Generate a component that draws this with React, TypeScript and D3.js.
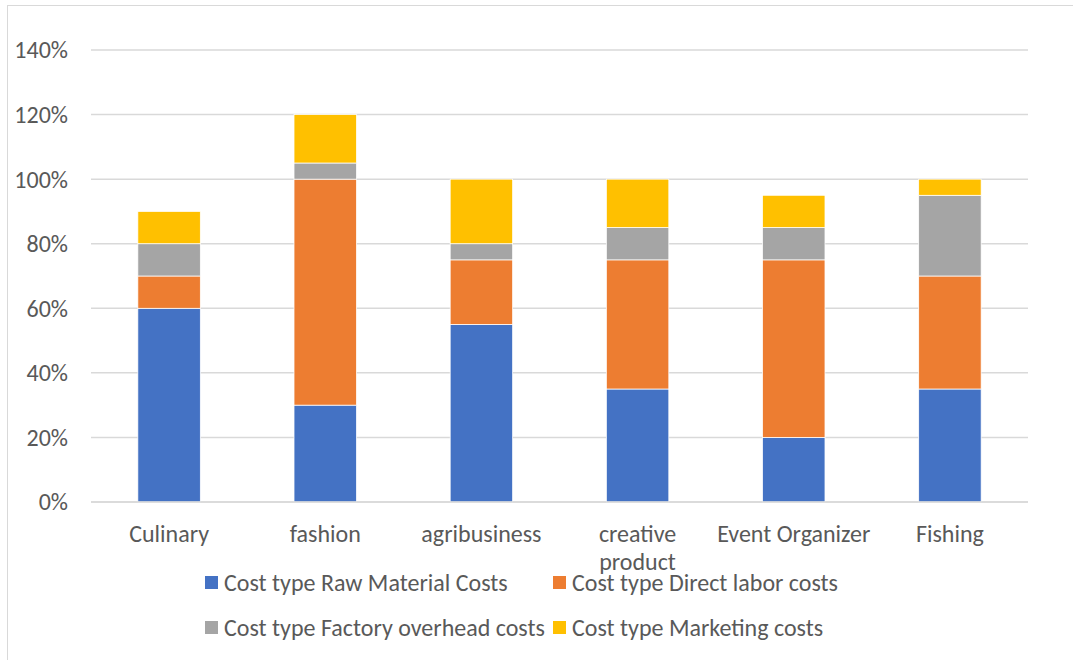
import React from 'react';
import * as d3 from 'd3';

const categories = ['Culinary', 'fashion', 'agribusiness', 'creative product', 'Event Organizer', 'Fishing'];
const seriesNames = [
  'Cost type Raw Material Costs',
  'Cost type Direct labor costs',
  'Cost type Factory overhead costs',
  'Cost type Marketing costs',
];
const rawMaterial = [0.6, 0.3, 0.55, 0.35, 0.2, 0.35];
const directLabor = [0.1, 0.7, 0.2, 0.4, 0.55, 0.35];
const overhead = [0.1, 0.05, 0.05, 0.1, 0.1, 0.25];
const marketing = [0.1, 0.15, 0.2, 0.15, 0.1, 0.05];
const yTicks = [0, 0.2, 0.4, 0.6, 0.8, 1.0, 1.2, 1.4];
const colors = ['#4472C4', '#ED7D31', '#A5A5A5', '#FFC000'];

const width = 1073;
const height = 660;
const margin = { top: 50, bottom: 158, left: 91, right: 45 };
const font = 'Carlito, Lato, "Open Sans", sans-serif';
const fontSize = 24;

export default function App() {
  const chartWidth = width - margin.left - margin.right;
  const chartHeight = height - margin.top - margin.bottom;

  const x = d3.scaleBand().domain(categories).range([0, chartWidth]).paddingInner(0.6).paddingOuter(0.3);
  const y = d3.scaleLinear().domain([0, 1.4]).range([chartHeight, 0]);

  const table = categories.map((c, i) => ({
    cat: c,
    s0: rawMaterial[i],
    s1: directLabor[i],
    s2: overhead[i],
    s3: marketing[i],
  }));
  const stacked = d3.stack<any>().keys(['s0', 's1', 's2', 's3'])(table);
  const fmt = d3.format('.0%');

  const legend = [
    { name: seriesNames[0], x: 205, y: 583 },
    { name: seriesNames[1], x: 553, y: 583 },
    { name: seriesNames[2], x: 205, y: 628 },
    { name: seriesNames[3], x: 553, y: 628 },
  ];

  return (
    <svg width={width} height={height} style={{ position: 'absolute', left: 0, top: 0, background: '#fff' }}>
      <rect x={7.5} y={5.5} width={1080} height={700} fill="none" stroke="#d9d9d9" />
      <g transform={`translate(${margin.left}, ${margin.top})`}>
        {yTicks.map((t) => (
          <g key={`tick-${t}`}>
            <line x1={0} x2={chartWidth} y1={y(t)} y2={y(t)} stroke="#d9d9d9" strokeWidth={1.5} />
            <text x={-23} y={y(t)} dy="0.35em" textAnchor="end" fontFamily={font} fontSize={fontSize} fill="#595959">
              {fmt(t)}
            </text>
          </g>
        ))}
        {stacked.map((layer, li) =>
          layer.map((d, i) => (
            <rect
              key={`bar-${li}-${i}`}
              x={x(categories[i])}
              y={y(d[1])}
              width={x.bandwidth()}
              height={y(d[0]) - y(d[1])}
              fill={colors[li]}
              stroke="#fff"
              strokeWidth={0.75}
            />
          ))
        )}
        <line x1={0} x2={chartWidth} y1={y(0)} y2={y(0)} stroke="#d9d9d9" strokeWidth={1.5} />
        {categories.map((c) => {
          const words = c === 'creative product' ? ['creative', 'product'] : [c];
          return (
            <text key={`cat-${c}`} x={(x(c) || 0) + x.bandwidth() / 2} y={chartHeight + 40} textAnchor="middle" fontFamily={font} fontSize={fontSize} fill="#595959">
              {words.map((w, i) => (
                <tspan key={w} x={(x(c) || 0) + x.bandwidth() / 2} dy={i === 0 ? 0 : 28}>{w}</tspan>
              ))}
            </text>
          );
        })}
      </g>
      {legend.map((l, i) => (
        <g key={`legend-${i}`}>
          <rect x={l.x} y={l.y - 7} width={13} height={13} fill={colors[i]} />
          <text x={l.x + 19} y={l.y} dy="0.35em" fontFamily={font} fontSize={fontSize} fill="#595959">
            {l.name}
          </text>
        </g>
      ))}
    </svg>
  );
}
